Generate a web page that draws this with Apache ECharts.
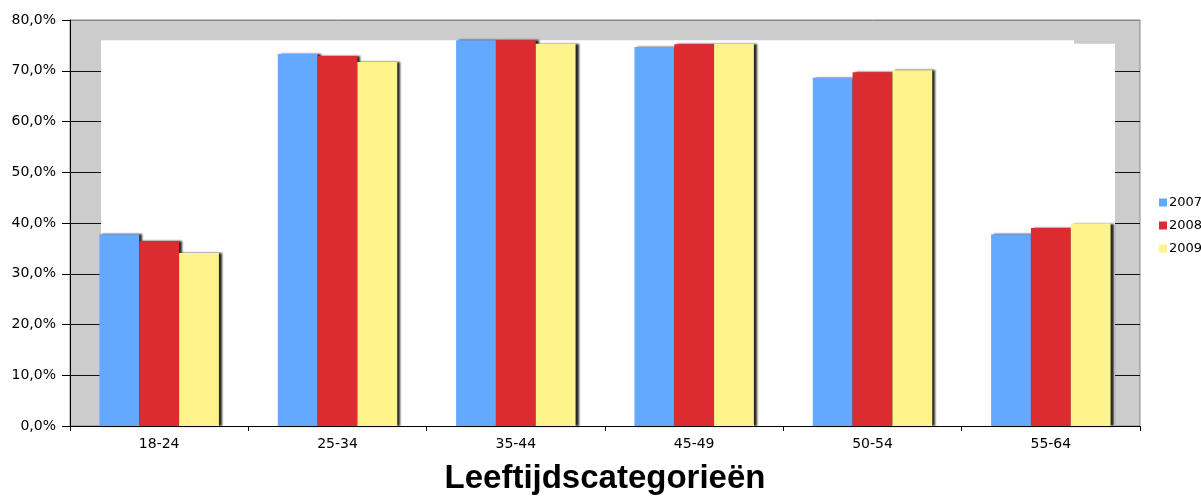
<!DOCTYPE html>
<html><head><meta charset="utf-8">
<script src="https://cdn.jsdelivr.net/npm/echarts@6/dist/echarts.min.js"></script>
<style>html,body{margin:0;padding:0;background:#fff}#c{width:1201px;height:496px}</style>
</head><body><div id="c"></div>
<script>
var categories = ['18-24','25-34','35-44','45-49','50-54','55-64'];
var years = ['2007','2008','2009'];
var s2007 = [37.8, 73.3, 76.0, 74.7, 68.6, 37.8];
var s2008 = [36.4, 72.9, 76.0, 75.2, 69.7, 39.0];
var s2009 = [34.1, 71.7, 75.3, 75.3, 70.1, 39.9];
var yTicks = [0,10,20,30,40,50,60,70,80];
var colors = ['#63A9FF','#DD2B32','#FFF38B'];
var font = 'DejaVu Sans';

var chart = echarts.init(document.getElementById('c'), null, {renderer:'canvas'});
var shadow = {shadowColor:'rgba(0,0,0,0.85)', shadowBlur:2, shadowOffsetX:3, shadowOffsetY:0};
function bar(name, data, i){
  return {name:name, type:'bar', data:data, barGap:'0%', barCategoryGap:'33%', z:3,
    itemStyle:Object.assign({color:colors[i]}, shadow)};
}
var splitColors = yTicks.map(function(v,i){return i===yTicks.length-1?'#888':'#111';});
chart.setOption({
  animation:false,
  textStyle:{fontFamily:font},
  grid:{left:70, right:61, top:20, bottom:70, outerBoundsMode:'none', containLabel:false,
    show:true, backgroundColor:'#cccccc', borderColor:'#888', borderWidth:1},
  legend:{data:years, orient:'vertical', left:1154, top:191, itemWidth:8, itemHeight:8, itemGap:10,
    icon:'rect', textStyle:{fontFamily:font, fontSize:13, color:'#000', padding:[0,0,0,-3]}},
  xAxis:[{type:'category', data:categories, boundaryGap:true,
    axisLine:{lineStyle:{color:'#000', width:1}},
    axisTick:{show:true, length:5, lineStyle:{color:'#000'}},
    axisLabel:{fontFamily:font, fontSize:14, color:'#000', margin:11},
    name:'Leeftijdscategorieën', nameLocation:'middle', nameGap:36,
    nameTextStyle:{fontFamily:'Liberation Sans', fontWeight:'bold', fontSize:33, color:'#000'}},
    {type:'value', min:0, max:6, show:false}],
  yAxis:{type:'value', min:0, max:80, interval:10,
    axisLine:{show:true, lineStyle:{color:'#000'}},
    axisTick:{show:true, length:8, lineStyle:{color:'#000'}},
    axisLabel:{fontFamily:font, fontSize:14, color:'#000', margin:14,
      formatter:function(v){return v.toFixed(1).replace('.',',')+'%';}},
    splitLine:{show:true, lineStyle:{color:splitColors, width:1}}},
  series:[
    {name:'wall', type:'line', xAxisIndex:1, data:[], silent:true, z:1,
      markArea:{silent:true, z:1, itemStyle:{color:'#ffffff', borderWidth:0},
        data:[[{coord:[0.174,0]},{coord:[5.63,76]}],[{coord:[5.63,0]},{coord:[5.86,75.3]}]]}},
    bar('2007', s2007, 0), bar('2008', s2008, 1), bar('2009', s2009, 2)
  ]
});
</script></body></html>
